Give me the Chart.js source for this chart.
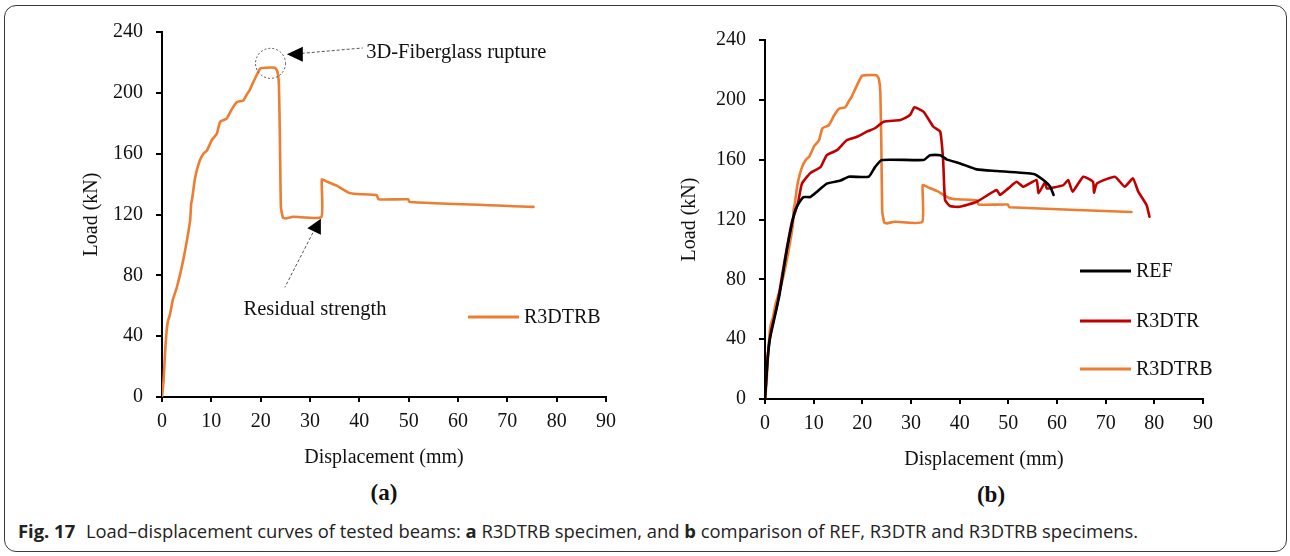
<!DOCTYPE html>
<html lang="en">
<head>
<meta charset="UTF-8">
<title>Load–displacement curves</title>
<script src="https://cdn.jsdelivr.net/npm/chart.js@4.4.5/dist/chart.umd.min.js"></script>
<style>
  body { margin: 0; background: #fff; width: 1290px; height: 556px; overflow: hidden; position: relative; }
  .frame { position: absolute; left: 4px; top: 5px; width: 1281px; height: 545px; border: 1px solid #3a3a3a; border-radius: 12px; }
  .panel { position: absolute; top: 0; }
  .tag { position: absolute; font-family: 'Liberation Serif', serif; font-weight: bold; font-size: 23px; color: #111; transform: translate(-50%, -50%); }
  .caption { position: absolute; left: 18px; top: 518px; font-family: 'Open Sans', sans-serif; font-size: 18.4px; color: #222; white-space: nowrap; }
  .caption b { font-weight: 700; margin-right: 6px; }
</style>
</head>
<body>
<div class="frame"></div>
<div class="panel" style="left:0"><canvas id="chartA" width="645" height="470"></canvas></div>
<div class="panel" style="left:645px"><canvas id="chartB" width="645" height="472"></canvas></div>
<div class="tag" style="left:384px; top:493px">(a)</div>
<div class="tag" style="left:991px; top:495px">(b)</div>
<div class="caption"><b>Fig. 17</b> Load–displacement curves of tested beams: <b style="margin:0">a</b> R3DTRB specimen, and <b style="margin:0">b</b> comparison of REF, R3DTR and R3DTRB specimens.</div>

<script>
// displacement (mm) / load (kN) readings for each beam
const r3dtrbDisp = [0, 0.3, 0.6, 0.9, 1.2, 1.6, 2.2, 3.0, 4.3, 5.7, 5.9, 6.1, 6.7, 7.6, 8.4, 9.1, 10.1, 11.1, 11.8, 13.1, 14.1, 15.2, 16.5, 17.2, 17.8, 18.5, 19.9, 20.9, 22.9, 23.4, 23.7, 23.9, 24.1, 24.5, 25.0, 26.6, 32.3, 32.4, 33.5, 35.4, 37.8, 39.5, 43.5, 43.9, 49.9, 50.2, 75.3];
const r3dtrbLoad = [0, 10, 28, 42, 50, 54, 64, 72, 90, 116, 127, 130, 144, 155, 160, 162, 169, 173, 181, 183, 189, 194, 195, 199, 202, 207, 216, 216.5, 216.5, 214, 205, 170, 125, 118, 117.4, 118.5, 118.3, 143, 141.5, 139, 134.4, 133.5, 132.8, 130, 130, 128.2, 125];

const refDisp = [0, 0.5, 1, 2, 3, 4.5, 6, 6.6, 7.9, 9.3, 10.7, 12.7, 15.5, 17.2, 21.3, 22.6, 24, 32.6, 33.9, 36, 37.4, 40.1, 43.5, 47.6, 55.2, 57.2, 58.6, 59.3];
const refLoad = [0, 25, 40, 55, 70, 100, 124, 129, 135, 135, 138.6, 144, 146, 148.6, 148.6, 155, 159.8, 159.8, 163, 163, 160, 157.5, 153.5, 152.4, 150.4, 146.4, 141.9, 136.4];

const r3dtrDisp = [0, 0.6, 1.2, 2.5, 4, 5.5, 6.5, 6.9, 7.6, 9.3, 11.4, 12.7, 14.8, 16.8, 18.9, 20.9, 22.6, 24.4, 27.8, 29.8, 30.7, 32.6, 34.6, 36, 36.6, 37, 38, 40, 43.5, 47.6, 48.3, 50, 51.7, 53.1, 55.8, 56.2, 57.6, 57.9, 61.3, 62.3, 63.2, 65.4, 67.4, 67.6, 68.2, 71.9, 73.9, 75.6, 76.7, 78.4, 79];
const r3dtrLoad = [0, 30, 45, 63, 92, 118, 128, 133, 144, 151, 155, 163, 166.4, 173, 175.3, 178.7, 181, 185.4, 186.5, 189.8, 195, 192, 182, 178.7, 159.8, 133, 129, 128.5, 131.9, 139.7, 136.4, 140.8, 145.2, 141.9, 146.4, 137.5, 145.2, 140.8, 143, 146.4, 138.6, 148.6, 145.2, 138, 144.1, 148.6, 141.9, 147.5, 138.6, 129.7, 121.9];

const xTicks = [0, 10, 20, 30, 40, 50, 60, 70, 80, 90];
const yTicks = [0, 40, 80, 120, 160, 200, 240];

const serif = 'Liberation Serif';
const ink = '#111';

function toPoints(xs, ys) {
  return xs.map((x, i) => ({ x: x, y: ys[i] }));
}

function series(label, xs, ys, color) {
  return {
    label: label,
    data: toPoints(xs, ys),
    borderColor: color,
    backgroundColor: color,
    borderWidth: 2.6,
    pointRadius: 0,
    showLine: true,
    tension: 0.15,
    borderJoinStyle: 'round',
    borderCapStyle: 'round'
  };
}

// axes with outward tick marks and fixed box sizes so both panels line up
function axes(yWidth, xHeight, yTitlePad) {
  return {
    x: {
      type: 'linear', min: 0, max: 90,
      afterBuildTicks: s => { s.ticks = xTicks.map(v => ({ value: v })); },
      afterFit: s => { s.height = xHeight; },
      border: { color: '#000', width: 2 },
      grid: { drawOnChartArea: false, drawTicks: true, tickLength: 5, color: '#000', lineWidth: 2 },
      ticks: { color: ink, padding: 8, font: { family: serif, size: 20 } },
      title: { display: true, text: 'Displacement (mm)', color: ink, padding: 0, font: { family: serif, size: 20 } }
    },
    y: {
      type: 'linear', min: 0, max: 240,
      afterBuildTicks: s => { s.ticks = yTicks.map(v => ({ value: v })); },
      afterFit: s => { s.width = yWidth; },
      border: { color: '#000', width: 2 },
      grid: { drawOnChartArea: false, drawTicks: true, tickLength: 6, color: '#000', lineWidth: 2 },
      ticks: { color: ink, padding: 13, font: { family: serif, size: 20 } },
      title: { display: true, text: 'Load (kN)', color: ink, padding: { top: yTitlePad, bottom: 0 }, font: { family: serif, size: 20 } }
    }
  };
}

// legend drawn as a column of line samples, each at its own height
const legendColumn = {
  id: 'legendColumn',
  afterDraw(chart, args, opts) {
    const ctx = chart.ctx;
    ctx.save();
    chart.data.datasets.forEach((ds, i) => {
      const y = opts.rows[i];
      ctx.strokeStyle = ds.borderColor;
      ctx.lineWidth = 3;
      ctx.beginPath();
      ctx.moveTo(opts.x, y);
      ctx.lineTo(opts.x + 51, y);
      ctx.stroke();
      ctx.fillStyle = ink;
      ctx.font = '20px ' + serif;
      ctx.textBaseline = 'middle';
      ctx.fillText(ds.label, opts.x + 56, y + 1);
    });
    ctx.restore();
  }
};

// callouts on panel (a): rupture point and residual strength
const callouts = {
  id: 'callouts',
  afterDatasetsDraw(chart) {
    const ctx = chart.ctx;
    const xs = chart.scales.x, ys = chart.scales.y;
    const px = v => xs.getPixelForValue(v);
    const py = v => ys.getPixelForValue(v);
    ctx.save();

    // dotted ring around the peak
    ctx.strokeStyle = '#555';
    ctx.lineWidth = 1;
    ctx.setLineDash([2, 2]);
    ctx.beginPath();
    ctx.arc(px(22.0), py(219.4), 15, 0, Math.PI * 2);
    ctx.stroke();

    // rupture arrow
    const tx = px(25.3), ty = py(225.3);
    ctx.setLineDash([3, 2]);
    ctx.beginPath();
    ctx.moveTo(tx + 15, ty - 1);
    ctx.lineTo(px(40.7), py(229.5));
    ctx.stroke();
    ctx.setLineDash([]);
    ctx.fillStyle = '#000';
    ctx.beginPath();
    ctx.moveTo(tx, ty);
    ctx.lineTo(tx + 16, ty - 7.5);
    ctx.lineTo(tx + 16, ty + 7.5);
    ctx.closePath();
    ctx.fill();

    ctx.fillStyle = ink;
    ctx.font = '20.5px ' + serif;
    ctx.textBaseline = 'middle';
    ctx.textAlign = 'left';
    ctx.fillText('3D-Fiberglass rupture', px(41.4), py(226.2));

    // residual strength arrow
    const rx = px(32.2), ry = py(117.2);
    ctx.setLineDash([3, 2]);
    ctx.beginPath();
    ctx.moveTo(rx - 8, ry + 14);
    ctx.lineTo(px(24.9), py(72.1));
    ctx.stroke();
    ctx.setLineDash([]);
    ctx.fillStyle = '#000';
    ctx.beginPath();
    ctx.moveTo(rx, ry);
    ctx.lineTo(rx - 13.5, ry + 9.5);
    ctx.lineTo(rx, ry + 16);
    ctx.closePath();
    ctx.fill();

    ctx.fillStyle = ink;
    ctx.textAlign = 'center';
    ctx.fillText('Residual strength', px(31.0), py(57.7));
    ctx.restore();
  }
};

const orange = '#ED7D31';
const red = '#C00000';
const black = '#000000';

new Chart(document.getElementById('chartA'), {
  type: 'scatter',
  data: { datasets: [series('R3DTRB', r3dtrbDisp, r3dtrbLoad, orange)] },
  options: {
    responsive: false,
    animation: false,
    layout: { padding: { top: 32, right: 39, bottom: 0, left: 0 } },
    scales: axes(162, 73, 80),
    plugins: {
      legend: { display: false },
      tooltip: { enabled: false },
      legendColumn: { x: 468, rows: [317] }
    }
  },
  plugins: [callouts, legendColumn]
});

new Chart(document.getElementById('chartB'), {
  type: 'scatter',
  data: {
    datasets: [
      series('REF', refDisp, refLoad, black),
      series('R3DTR', r3dtrDisp, r3dtrLoad, red),
      series('R3DTRB', r3dtrbDisp, r3dtrbLoad, orange)
    ]
  },
  options: {
    responsive: false,
    animation: false,
    layout: { padding: { top: 40, right: 87, bottom: 0, left: 0 } },
    scales: axes(120, 73, 33),
    plugins: {
      legend: { display: false },
      tooltip: { enabled: false },
      legendColumn: { x: 435, rows: [271, 321, 369] }
    }
  },
  plugins: [legendColumn]
});
</script>
</body>
</html>
